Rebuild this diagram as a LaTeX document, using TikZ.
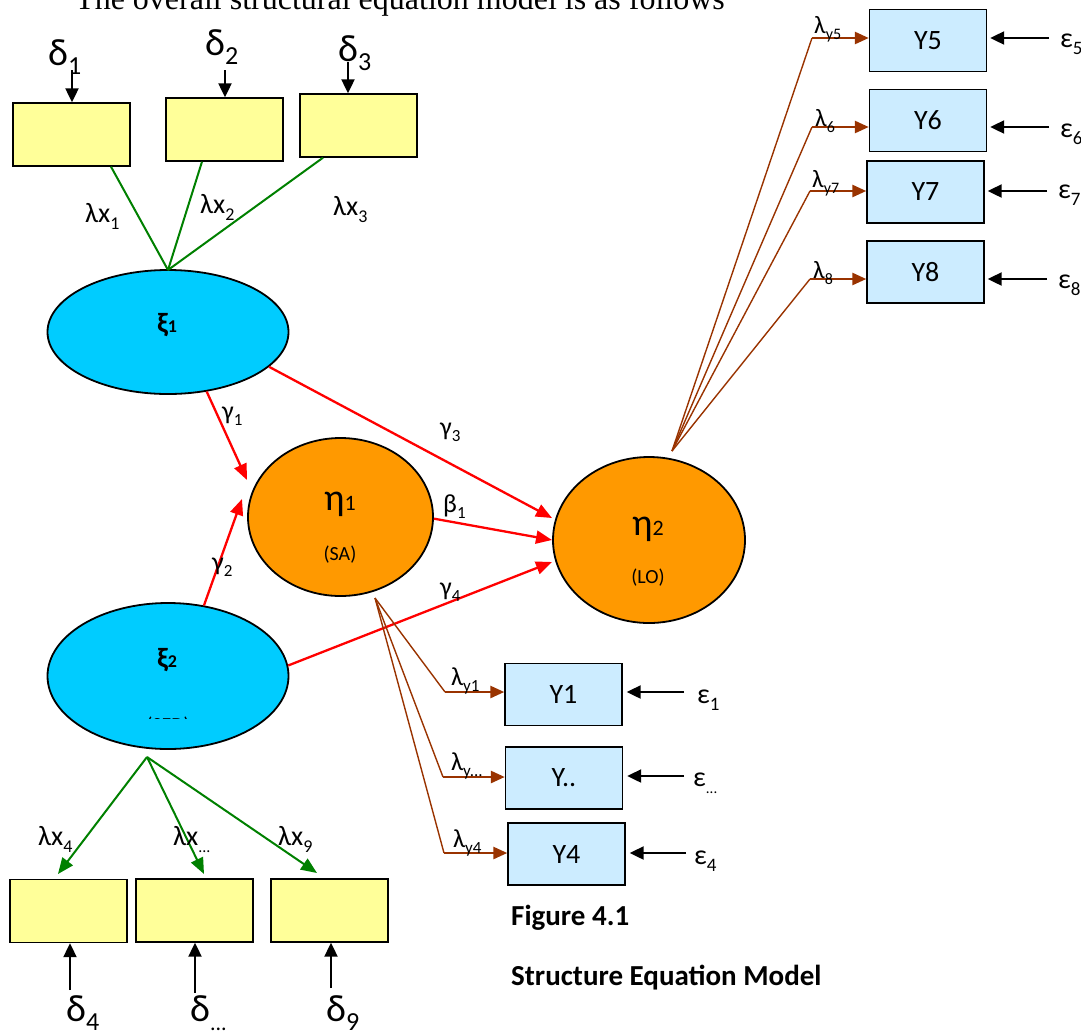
\documentclass[tikz,border=0pt]{standalone}
\usepackage{fontspec}
\setmainfont{Carlito}
\newfontfamily\titlefont{Liberation Serif}
\usetikzlibrary{arrows.meta,shapes.geometric}
\definecolor{yel}{HTML}{FFFF99}
\definecolor{lblue}{HTML}{CCECFF}
\definecolor{cyanfill}{HTML}{00CCFF}
\definecolor{orng}{HTML}{FF9900}
\definecolor{grn}{HTML}{008000}
\definecolor{brn}{HTML}{993300}
\newcommand\fs[1]{\fontsize{#1}{#1}\selectfont}
\newcommand\lowsub[2]{\raisebox{-0.25em}{\fs{#1}#2}}
\tikzset{
 ybox/.style={draw=black,line width=1.4pt,fill=yel,minimum width=117pt,minimum height=63pt,inner sep=0pt},
 bbox/.style={draw=black,line width=1.4pt,fill=lblue,minimum width=117pt,minimum height=62pt,inner sep=0pt,font=\fs{28}},
 lat/.style={draw=black,line width=1.8pt,ellipse,inner sep=0pt},
 blk/.style={black,line width=2.2pt,-{Triangle[length=14pt,width=13pt]}},
 redarr/.style={red,line width=2.3pt,-{Triangle[length=16pt,width=13pt]}},
 grnline/.style={grn,line width=2pt},
 grnarr/.style={grnline,-{Triangle[length=16pt,width=13pt]}},
 brnline/.style={brn,line width=1.4pt},
 brnarr/.style={brn,line width=2.6pt,-{Triangle[length=14pt,width=12pt]}},
 lbl/.style={inner sep=0pt,anchor=base west},
}
\begin{document}
\begin{tikzpicture}[x=1pt,y=-1pt]
\useasboundingbox (0,0) rectangle (1081,1034);
\begin{scope}
\clip (0,0) rectangle (1081,1034);
\node[lbl,font=\titlefont\fs{32}] (title) at (75,9) {The overall structural equation model is as follows};
\end{scope}

% measured-variable boxes (X)
\node[ybox] (x1) at (71.5,134.5) {};
\node[ybox] (x2) at (224.5,129.5) {};
\node[ybox] (x3) at (358.5,125.5) {};
\node[ybox] (x4) at (68.5,911) {};
\node[ybox] (x5) at (194.5,910.5) {};
\node[ybox] (x6) at (329.5,910.5) {};

% Y boxes
\node[bbox] (y5) at (928,40.5) {Y5};
\node[bbox] (y6) at (928,120.5) {Y6};
\node[bbox] (y7) at (925.5,192) {Y7};
\node[bbox] (y8) at (925.5,272) {Y8};
\node[bbox] (y1) at (563.5,694.5) {Y1};
\node[bbox] (yd) at (564,778) {Y..};
\node[bbox] (y4) at (566.5,854) {Y4};

% latent variables
\node[lat,fill=cyanfill,minimum width=241pt,minimum height=124pt] (xi1) at (168,332) {};
\node[lat,fill=cyanfill,minimum width=241pt,minimum height=146pt] (xi2) at (168,676) {};
\node[lat,fill=orng,minimum width=185pt,minimum height=158pt] (eta1) at (340.5,517) {};
\node[lat,fill=orng,minimum width=192pt,minimum height=166pt] (eta2) at (649,540) {};

\node[lbl,font=\bfseries\fs{28}] (xi1l) at (157,332) {ξ\fs{18}1};
\node[lbl,font=\bfseries\fs{28}] (xi2l) at (157,667) {ξ\fs{18}2};
\begin{scope}
\clip (100,700) rectangle (240,718);
\node[inner sep=0pt,anchor=base,font=\fs{20}] (sed) at (168,731) {(SED)};
\end{scope}
\node[lbl,font=\fs{38}] (eta1l) at (324,510) {η\fs{22}1};
\node[inner sep=0pt,anchor=base,font=\fs{20}] (sa) at (340,560) {(SA)};
\node[lbl,font=\fs{38}] (eta2l) at (632,535) {η\fs{22}2};
\node[inner sep=0pt,anchor=base,font=\fs{20}] (lo) at (648,583) {(LO)};

% delta labels and arrows
\node[lbl,font=\fs{38}] (d1) at (48,65) {δ\lowsub{26}{1}};
\node[lbl,font=\fs{38}] (d2) at (205,55) {δ\lowsub{26}{2}};
\node[lbl,font=\fs{38}] (d3) at (338,61) {δ\lowsub{26}{3}};
\node[lbl,font=\fs{38}] (d4) at (66,1021) {δ\lowsub{26}{4}};
\node[lbl,font=\fs{38}] (d5) at (190,1021) {δ\lowsub{22}{...}};
\node[lbl,font=\fs{38}] (d6) at (326,1021) {δ\lowsub{26}{9}};
\coordinate (d1a) at (72,70);
\coordinate (d2a) at (225,70);
\coordinate (d3a) at (348,62);
\coordinate (d4a) at (70,990);
\coordinate (d5a) at (195,993);
\coordinate (d6a) at (331,988);
\draw[blk] (d1a) -- (d1a |- x1.north);
\draw[blk] (d2a) -- (d2a |- x2.north);
\draw[blk] (d3a) -- (d3a |- x3.north);
\draw[blk] (d4a) -- (d4a |- x4.south);
\draw[blk] (d5a) -- (d5a |- x5.south);
\draw[blk] (d6a) -- (d6a |- x6.south);

% green loadings
\coordinate (xi1t) at (168,270);
\draw[grnline] ([xshift=39.5pt]x1.south) -- (xi1t);
\draw[grnline] ([xshift=-22.5pt]x2.south) -- (xi1t);
\draw[grnline] ([xshift=-35.5pt]x3.south) -- (xi1t);
\node[lbl,font=\fs{28}] (lx1) at (85,222) {λx\lowsub{18}{1}};
\node[lbl,font=\fs{28}] (lx2) at (200,213) {λx\lowsub{18}{2}};
\node[lbl,font=\fs{28}] (lx3) at (333,215) {λx\lowsub{18}{3}};

\coordinate (xi2b) at (147,757);
\coordinate (t4) at (58,874);
\coordinate (t5) at (204,874);
\coordinate (t6) at (317,873);
\draw[grnarr] (xi2b) -- (t4);
\draw[grnarr] (xi2b) -- (t5);
\draw[grnarr] (xi2b) -- (t6);
\node[lbl,font=\fs{28}] (lx4) at (38,845) {λx\lowsub{18}{4}};
\node[lbl,font=\fs{28}] (lx5) at (173,845) {λx\lowsub{16}{...}};
\node[lbl,font=\fs{28}] (lx6) at (278,845) {λx\lowsub{18}{9}};

% structural paths
\coordinate (g1t) at (247,480);
\coordinate (g2t) at (242,499);
\coordinate (g3t) at (552,518);
\coordinate (b1t) at (552,540);
\coordinate (g4t) at (552,562);
\draw[redarr] (xi1.-57) -- (g1t);
\draw[redarr] (xi2.63) -- (g2t);
\draw[redarr] (xi1.-19.3) -- (g3t);
\draw[redarr] (eta1.-1) -- (b1t);
\draw[redarr] (xi2.5) -- (g4t);
\node[lbl,font=\fs{26}] (g1) at (222,419) {γ\lowsub{17}{1}};
\node[lbl,font=\fs{26}] (g2) at (212,570) {γ\lowsub{17}{2}};
\node[lbl,font=\fs{26}] (g3) at (440,435) {γ\lowsub{17}{3}};
\node[lbl,font=\fs{26}] (g4) at (440,595) {γ\lowsub{17}{4}};
\node[lbl,font=\fs{26}] (b1) at (443,512) {β\lowsub{17}{1}};

% eta1 indicators
\coordinate (eta1o) at (375,598);
\coordinate (e1) at (445,692);
\coordinate (e2) at (443,777);
\coordinate (e3) at (444,853);
\draw[brnline] (eta1o) -- (e1);
\draw[brnline] (eta1o) -- (e2);
\draw[brnline] (eta1o) -- (e3);
\draw[brnarr] (e1) -- (e1 -| y1.west);
\draw[brnarr] (e2) -- (e2 -| yd.west);
\draw[brnarr] (e3) -- (e3 -| y4.west);
\node[lbl,font=\fs{26}] (ly1) at (451,685) {λ\lowsub{17}{y1}};
\node[lbl,font=\fs{26}] (lyd) at (451,770) {λ\lowsub{17}{y...}};
\node[lbl,font=\fs{26}] (ly4) at (453,847) {λ\lowsub{17}{y4}};

% eta2 indicators
\coordinate (eta2o) at (672,451);
\coordinate (e5) at (812,38);
\coordinate (e6) at (812,127);
\coordinate (e7) at (810,191);
\coordinate (e8) at (810,279);
\draw[brnline] (eta2o) -- (e5);
\draw[brnline] (eta2o) -- (e6);
\draw[brnline] (eta2o) -- (e7);
\draw[brnline] (eta2o) -- (e8);
\draw[brnarr] (e5) -- (e5 -| y5.west);
\draw[brnarr] (e6) -- (e6 -| y6.west);
\draw[brnarr] (e7) -- (e7 -| y7.west);
\draw[brnarr] (e8) -- (e8 -| y8.west);
\node[lbl,font=\fs{25}] (ly5) at (814,33) {λ\lowsub{16}{y5}};
\node[lbl,font=\fs{25}] (ly6) at (815,126) {λ\lowsub{16}{6}};
\node[lbl,font=\fs{25}] (ly7) at (812,187) {λ\lowsub{16}{y7}};
\node[lbl,font=\fs{25}] (ly8) at (813,278) {λ\lowsub{16}{8}};

% epsilon errors
\coordinate (ea5) at (1049,38);
\coordinate (ea6) at (1049,127);
\coordinate (ea7) at (1047,191);
\coordinate (ea8) at (1047,279);
\coordinate (ea1) at (684,692);
\coordinate (ead) at (684,776);
\coordinate (ea4) at (686,853);
\draw[blk,shorten >=3pt] (ea5) -- (ea5 -| y5.east);
\draw[blk,shorten >=3pt] (ea6) -- (ea6 -| y6.east);
\draw[blk,shorten >=3pt] (ea7) -- (ea7 -| y7.east);
\draw[blk,shorten >=3pt] (ea8) -- (ea8 -| y8.east);
\draw[blk,shorten >=4pt] (ea1) -- (ea1 -| y1.east);
\draw[blk,shorten >=4pt] (ead) -- (ead -| yd.east);
\draw[blk,shorten >=4pt] (ea4) -- (ea4 -| y4.east);
\node[lbl,font=\fs{28}] (ep5) at (1060,47) {ε\lowsub{19}{5}};
\node[lbl,font=\fs{28}] (ep6) at (1060,137) {ε\lowsub{19}{6}};
\node[lbl,font=\fs{28}] (ep7) at (1058,198) {ε\lowsub{19}{7}};
\node[lbl,font=\fs{28}] (ep8) at (1058,288) {ε\lowsub{19}{8}};
\node[lbl,font=\fs{28}] (ep1) at (697,703) {ε\lowsub{19}{1}};
\node[lbl,font=\fs{28}] (epd) at (693,786) {ε\lowsub{15}{...}};
\node[lbl,font=\fs{28}] (ep4) at (694,864) {ε\lowsub{19}{4}};

% caption
\node[lbl,font=\bfseries\fs{29}] (cap1) at (511,925) {Figure 4.1};
\node[lbl,font=\bfseries\fs{29}] (cap2) at (511,985) {Structure Equation Model};
\end{tikzpicture}
\end{document}
